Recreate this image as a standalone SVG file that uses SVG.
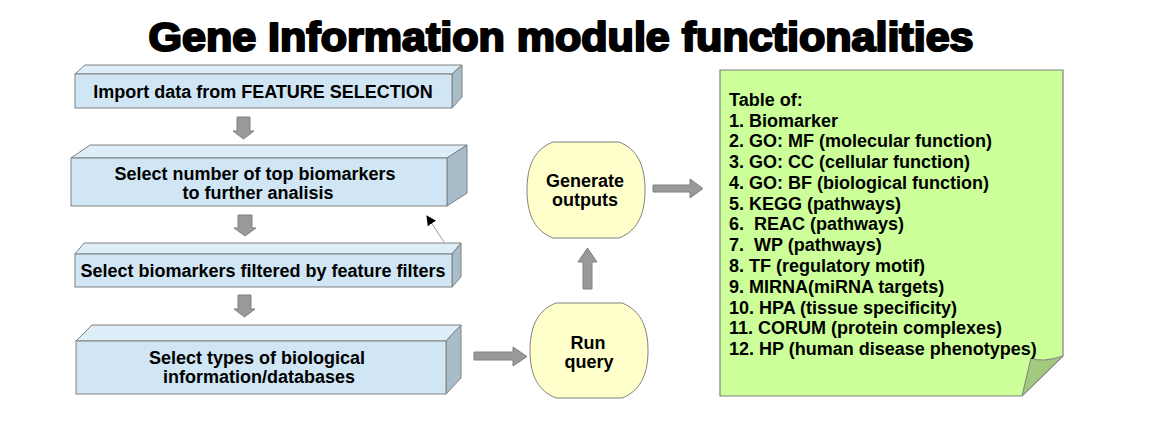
<svg xmlns="http://www.w3.org/2000/svg" width="1162" height="425" viewBox="0 0 1162 425">
<style>
  .t { font-family: "Liberation Sans", Arial, sans-serif; font-weight: bold; font-size: 18px; fill: #000; }
  .c { text-anchor: middle; }
  .front { fill: #D0E6F4; stroke: #808080; stroke-width: 1; }
  .top { fill: #DDEEF9; stroke: #808080; stroke-width: 1; }
  .side { fill: #A8BCC9; stroke: #808080; stroke-width: 1; }
  .cyl { fill: #FFFFCC; stroke: #808080; stroke-width: 1; }
  .blk { fill: #999999; stroke: #808080; stroke-width: 1; }
  .note { fill: #CCFF99; stroke: #808080; stroke-width: 1.2; }
  .fold { fill: #A3C97E; stroke: #808080; stroke-width: 1; }
</style>
<defs>
  <marker id="ah" viewBox="0 0 10 10" refX="9" refY="5" markerWidth="10" markerHeight="10" markerUnits="userSpaceOnUse" orient="auto">
    <path d="M0,0 L10,5 L0,10 Z" fill="#000"/>
  </marker>
</defs>
<rect width="1162" height="425" fill="#fff"/>
<text id="title" x="561" y="51" text-anchor="middle" font-family="'Liberation Sans', Arial, sans-serif" font-weight="bold" font-size="40" stroke="#000" stroke-width="2.2" stroke-linejoin="round" textLength="825" lengthAdjust="spacingAndGlyphs">Gene Information module functionalities</text>

<g id="box1">
  <polygon class="top" points="75,74 85,65 462,65 452,74"/>
  <polygon class="side" points="452,74 462,65 462,97 452,108"/>
  <rect class="front" x="75" y="74" width="377" height="34"/>
  <text class="t c" x="263" y="98">Import data from FEATURE SELECTION</text>
</g>
<g id="box2">
  <polygon class="top" points="71,158 90,145 467,145 447,158"/>
  <polygon class="side" points="447,158 467,145 467,193 447,206"/>
  <rect class="front" x="71" y="158" width="376" height="48"/>
  <text class="t c" x="255" y="180">Select number of top biomarkers</text>
  <text class="t c" x="258" y="199">to further analisis</text>
</g>
<g id="box3">
  <polygon class="top" points="75,254 84,243 461,243 452,254"/>
  <polygon class="side" points="452,254 461,243 461,277 452,287"/>
  <rect class="front" x="75" y="254" width="377" height="33"/>
  <text class="t c" x="263" y="277">Select biomarkers filtered by feature filters</text>
</g>
<g id="box4">
  <polygon class="top" points="76,341 92,325 461,325 446,341"/>
  <polygon class="side" points="446,341 461,325 461,378 446,394"/>
  <rect class="front" x="76" y="341" width="370" height="53"/>
  <text class="t c" x="257" y="364">Select types of biological</text>
  <text class="t c" x="259" y="383">information/databases</text>
</g>
<g id="generate">
  <path class="cyl" d="M553,142 H619 C640,150 645,170 645,190 C645,210 640,230 619,238 H553 C532,230 527,210 527,190 C527,170 532,150 553,142 Z"/>
  <text class="t c" x="585" y="187">Generate</text>
  <text class="t c" x="585" y="206">outputs</text>
</g>
<g id="runquery">
  <path class="cyl" d="M556,303 H622 C643,311 648,331 648,350.5 C648,370 643,390 622,398 H556 C535,390 530,370 530,350.5 C530,331 535,311 556,303 Z"/>
  <text class="t c" x="588" y="349">Run</text>
  <text class="t c" x="589" y="368">query</text>
</g>
<g id="table">
  <path class="note" d="M720,70 H1063 V356 L1022,396 H720 Z"/>
  <path class="fold" d="M1031,358 Q1042,363 1063,356 L1022,396 Z"/>
  <text class="t" x="729" y="106" xml:space="preserve"><tspan x="729" y="105.7">Table of:</tspan><tspan x="729" y="126.5">1. Biomarker</tspan><tspan x="729" y="147.3">2. GO: MF (molecular function)</tspan><tspan x="729" y="168">3. GO: CC (cellular function)</tspan><tspan x="729" y="188.8">4. GO: BF (biological function)</tspan><tspan x="729" y="209.6">5. KEGG (pathways)</tspan><tspan x="729" y="230.4">6.  REAC (pathways)</tspan><tspan x="729" y="251.2">7.  WP (pathways)</tspan><tspan x="729" y="272">8. TF (regulatory motif)</tspan><tspan x="729" y="292.7">9. MIRNA(miRNA targets)</tspan><tspan x="729" y="313.5">10. HPA (tissue specificity)</tspan><tspan x="729" y="334.3">11. CORUM (protein complexes)</tspan><tspan x="729" y="355">12. HP (human disease phenotypes)</tspan></text>
</g>
<g id="connectors">
  <polygon class="blk" points="237,117 250,117 250,131 254,131 243.5,139 233,131 237,131"/>
  <polygon class="blk" points="238,215 252,215 252,228 256,228 245,236 234,228 238,228"/>
  <polygon class="blk" points="238,295 251,295 251,309 255,309 244.5,317 234,309 238,309"/>
  <polygon class="blk" points="474,352 513,352 513,347 527,356.5 513,366 513,360 474,360"/>
  <polygon class="blk" points="583,289 583,262 578,262 587.5,248 597,262 592,262 592,289"/>
  <polygon class="blk" points="653,185 690,185 690,179 703,188.5 690,198 690,192 653,192"/>
  <line x1="444" y1="242" x2="427" y2="216" stroke="#999" stroke-width="1" marker-end="url(#ah)"/>
</g>
</svg>
